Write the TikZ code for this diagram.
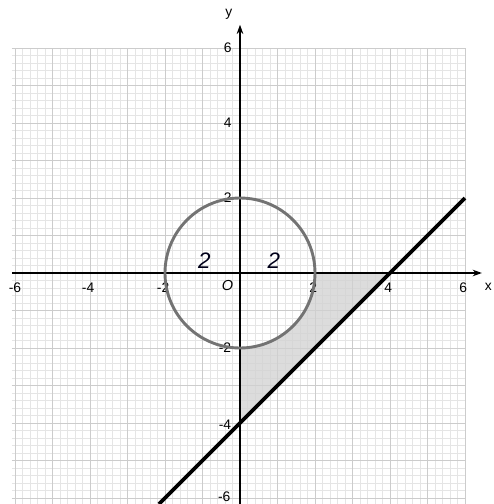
\documentclass[tikz,border=0pt]{standalone}
\usepackage{fontspec}
\setmainfont{Liberation Sans}
\usetikzlibrary{arrows.meta}
\begin{document}
\begin{tikzpicture}[x=1cm,y=1cm,
  minorgrid/.style={draw=black!10,line width=0.35pt},
  majorgrid/.style={draw=black!20,line width=0.5pt},
  axisline/.style={draw=black,line width=1pt},
  ticklab/.style={font=\fontsize{10.5}{12}\selectfont,inner sep=1pt},
  hand/.style={font=\fontsize{17}{20}\selectfont\itshape,text=black!90!blue},
  region/.style={fill=black!18,fill opacity=0.75},
  circ/.style={draw=black!55,line width=2.2pt},
  bound/.style={draw=black,line width=2.8pt}]
\useasboundingbox (-6.4,-6.16) rectangle (6.747,7.28);
\fill[white] (-6.4,-6.16) rectangle (6.747,7.28);
% grid
\draw[minorgrid] (-6.08,-6.16) grid[step=0.2] (6.03,6);
\draw[majorgrid] (-6.08,-6.16) grid[step=1] (6.03,6);
% shaded region
\path[region] (0,-4) -- (4,0) -- (2,0) arc[start angle=0,end angle=-90,radius=2] -- cycle;
% axes
\coordinate (xs) at (-6.08,0);
\coordinate (xe) at (6.45,0);
\coordinate (ys) at (0,-6.16);
\coordinate (ye) at (0,6.62);
\draw[axisline,-{Stealth[length=7pt,width=5pt]}] (xs) -- (xe);
\draw[axisline,-{Stealth[length=7pt,width=5pt]}] (ys) -- (ye);
\node[ticklab] (xlab) at (6.62,-0.38) {x};
\node[ticklab] (ylab) at (-0.3,6.9) {y};
% tick labels
\node[ticklab] (xm6) at (-6.0,-0.38) {-6};
\node[ticklab] (xm4) at (-4.05,-0.38) {-4};
\node[ticklab] (xm2) at (-2.05,-0.38) {-2};
\node[ticklab] (x2) at (1.95,-0.38) {2};
\node[ticklab] (x4) at (3.95,-0.38) {4};
\node[ticklab] (x6) at (5.95,-0.38) {6};
\node[ticklab] (y6) at (-0.33,6) {6};
\node[ticklab] (y4) at (-0.33,4) {4};
\node[ticklab] (y2) at (-0.33,2) {2};
\node[ticklab] (ym2) at (-0.4,-2) {-2};
\node[ticklab] (ym4) at (-0.4,-4.05) {-4};
\node[ticklab] (ym6) at (-0.42,-5.97) {-6};
\node[ticklab,font=\fontsize{11}{12}\selectfont\itshape] (orig) at (-0.33,-0.33) {O};
% circle and line
\draw[circ] (0,0) circle[radius=2];
\coordinate (la) at (-2.16,-6.16);
\coordinate (lb) at (6,2);
\draw[bound] (la) -- (lb);
% handwritten labels
\node[hand] (h1) at (-0.95,0.33) {2};
\node[hand] (h2) at (0.9,0.33) {2};
\end{tikzpicture}
\end{document}
